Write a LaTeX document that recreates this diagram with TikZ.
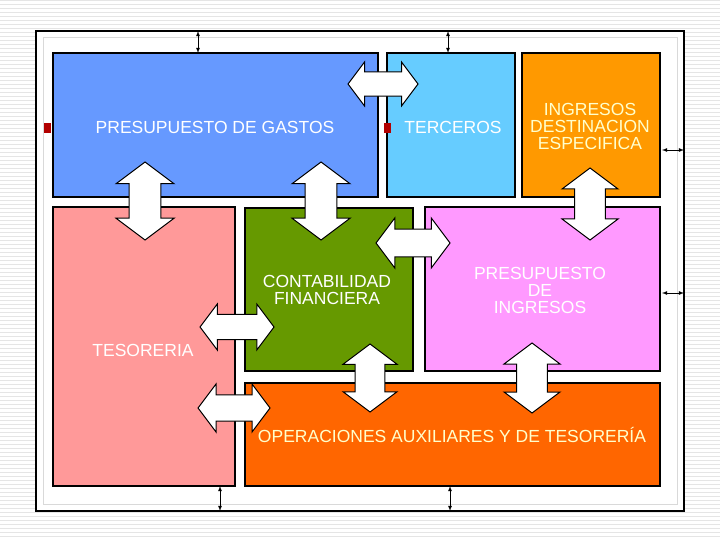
\documentclass[tikz,border=0pt]{standalone}
\usepackage{fontspec}
\setmainfont{Liberation Sans}
\begin{document}
\begin{tikzpicture}[x=1pt,y=-1pt,
  box/.style={draw=black,line width=1.2pt},
  lbl/.style={text=white,font=\fontsize{17.5}{20}\selectfont,align=center},
  fat/.style={draw=black,fill=white,line width=1pt},
  thin/.style={<->,>=latex,line width=0.8pt}]
\useasboundingbox (0,0) rectangle (720,540);
\fill[white] (0,0) rectangle (720,540);
\foreach \yy in {0,4,...,540} \draw[gray!20,line width=0.4pt] (0,\yy) -- (720,\yy);
\fill[white] (36,31) rectangle (684,511);
\draw[black,line width=2pt] (36,31) rectangle (684,511);
\draw[gray!30,line width=1pt] (43,38) rectangle (677,504);
% boxes
\draw[box,fill={rgb,255:red,102;green,153;blue,255}] (53,53) rectangle (378,197);
\draw[box,fill={rgb,255:red,102;green,204;blue,255}] (387,53) rectangle (515,197);
\draw[box,fill={rgb,255:red,255;green,153;blue,0}] (522,53) rectangle (660,197);
\draw[box,fill={rgb,255:red,255;green,153;blue,153}] (53,207) rectangle (235,486);
\draw[box,fill={rgb,255:red,102;green,153;blue,0}] (245,208) rectangle (413,371);
\draw[box,fill={rgb,255:red,255;green,153;blue,255}] (425,207) rectangle (660,371);
\draw[box,fill={rgb,255:red,255;green,102;blue,0}] (245,383) rectangle (660,486);
\fill[red!70!black] (44,123) rectangle (51,133);
\fill[red!70!black] (384,123) rectangle (391,133);
% labels
\node[lbl] (g) at (215,127) {PRESUPUESTO DE GASTOS};
\node[lbl] (t) at (453,127) {TERCEROS};
\node[lbl,text={rgb,255:red,255;green,255;blue,204}] (i) at (590,126) {INGRESOS\\[-3pt]DESTINACION\\[-3pt]ESPECIFICA};
\node[lbl] (c) at (327,290) {CONTABILIDAD\\[-3pt]FINANCIERA};
\node[lbl] (p) at (540,290) {PRESUPUESTO\\[-3pt]DE\\[-3pt]INGRESOS};
\node[lbl] (ts) at (143,350) {TESORERIA};
\node[lbl,text={rgb,255:red,255;green,255;blue,204}] (o) at (452,435) {OPERACIONES AUXILIARES Y DE TESORERÍA};
% fat double arrows: cx cy halflen halfwidth angle
\newcommand{\fatarrow}[5]{%
 \begin{scope}[shift={(#1,#2)},rotate=#5]
 \draw[fat] (-#3,0) -- (-#3+0.75*#4,-#4) -- (-#3+0.75*#4,-0.55*#4) -- (#3-0.75*#4,-0.55*#4) -- (#3-0.75*#4,-#4) -- (#3,0) -- (#3-0.75*#4,#4) -- (#3-0.75*#4,0.55*#4) -- (-#3+0.75*#4,0.55*#4) -- (-#3+0.75*#4,#4) -- cycle;
 \end{scope}}
\fatarrow{145}{201}{39}{29}{90}
\fatarrow{321}{201}{39}{29}{90}
\fatarrow{590}{204}{36}{28}{90}
\fatarrow{370}{378}{34}{27}{90}
\fatarrow{532}{378}{35}{28}{90}
\fatarrow{383}{84}{35}{22}{0}
\fatarrow{413}{243}{37}{25}{0}
\fatarrow{237}{327}{37}{23}{0}
\fatarrow{234}{408}{36}{24}{0}
% thin arrows
\coordinate (a1) at (198,31); \coordinate (a2) at (198,53);
\draw[thin] (a1) -- (a2);
\coordinate (b1) at (448,31); \coordinate (b2) at (448,53);
\draw[thin] (b1) -- (b2);
\coordinate (c1) at (662,150); \coordinate (c2) at (684,150);
\draw[thin] (c1) -- (c2);
\coordinate (d1) at (662,293); \coordinate (d2) at (684,293);
\draw[thin] (d1) -- (d2);
\coordinate (e1) at (220,486); \coordinate (e2) at (220,511);
\draw[thin] (e1) -- (e2);
\coordinate (f1) at (450,486); \coordinate (f2) at (450,511);
\draw[thin] (f1) -- (f2);
\end{tikzpicture}
\end{document}
